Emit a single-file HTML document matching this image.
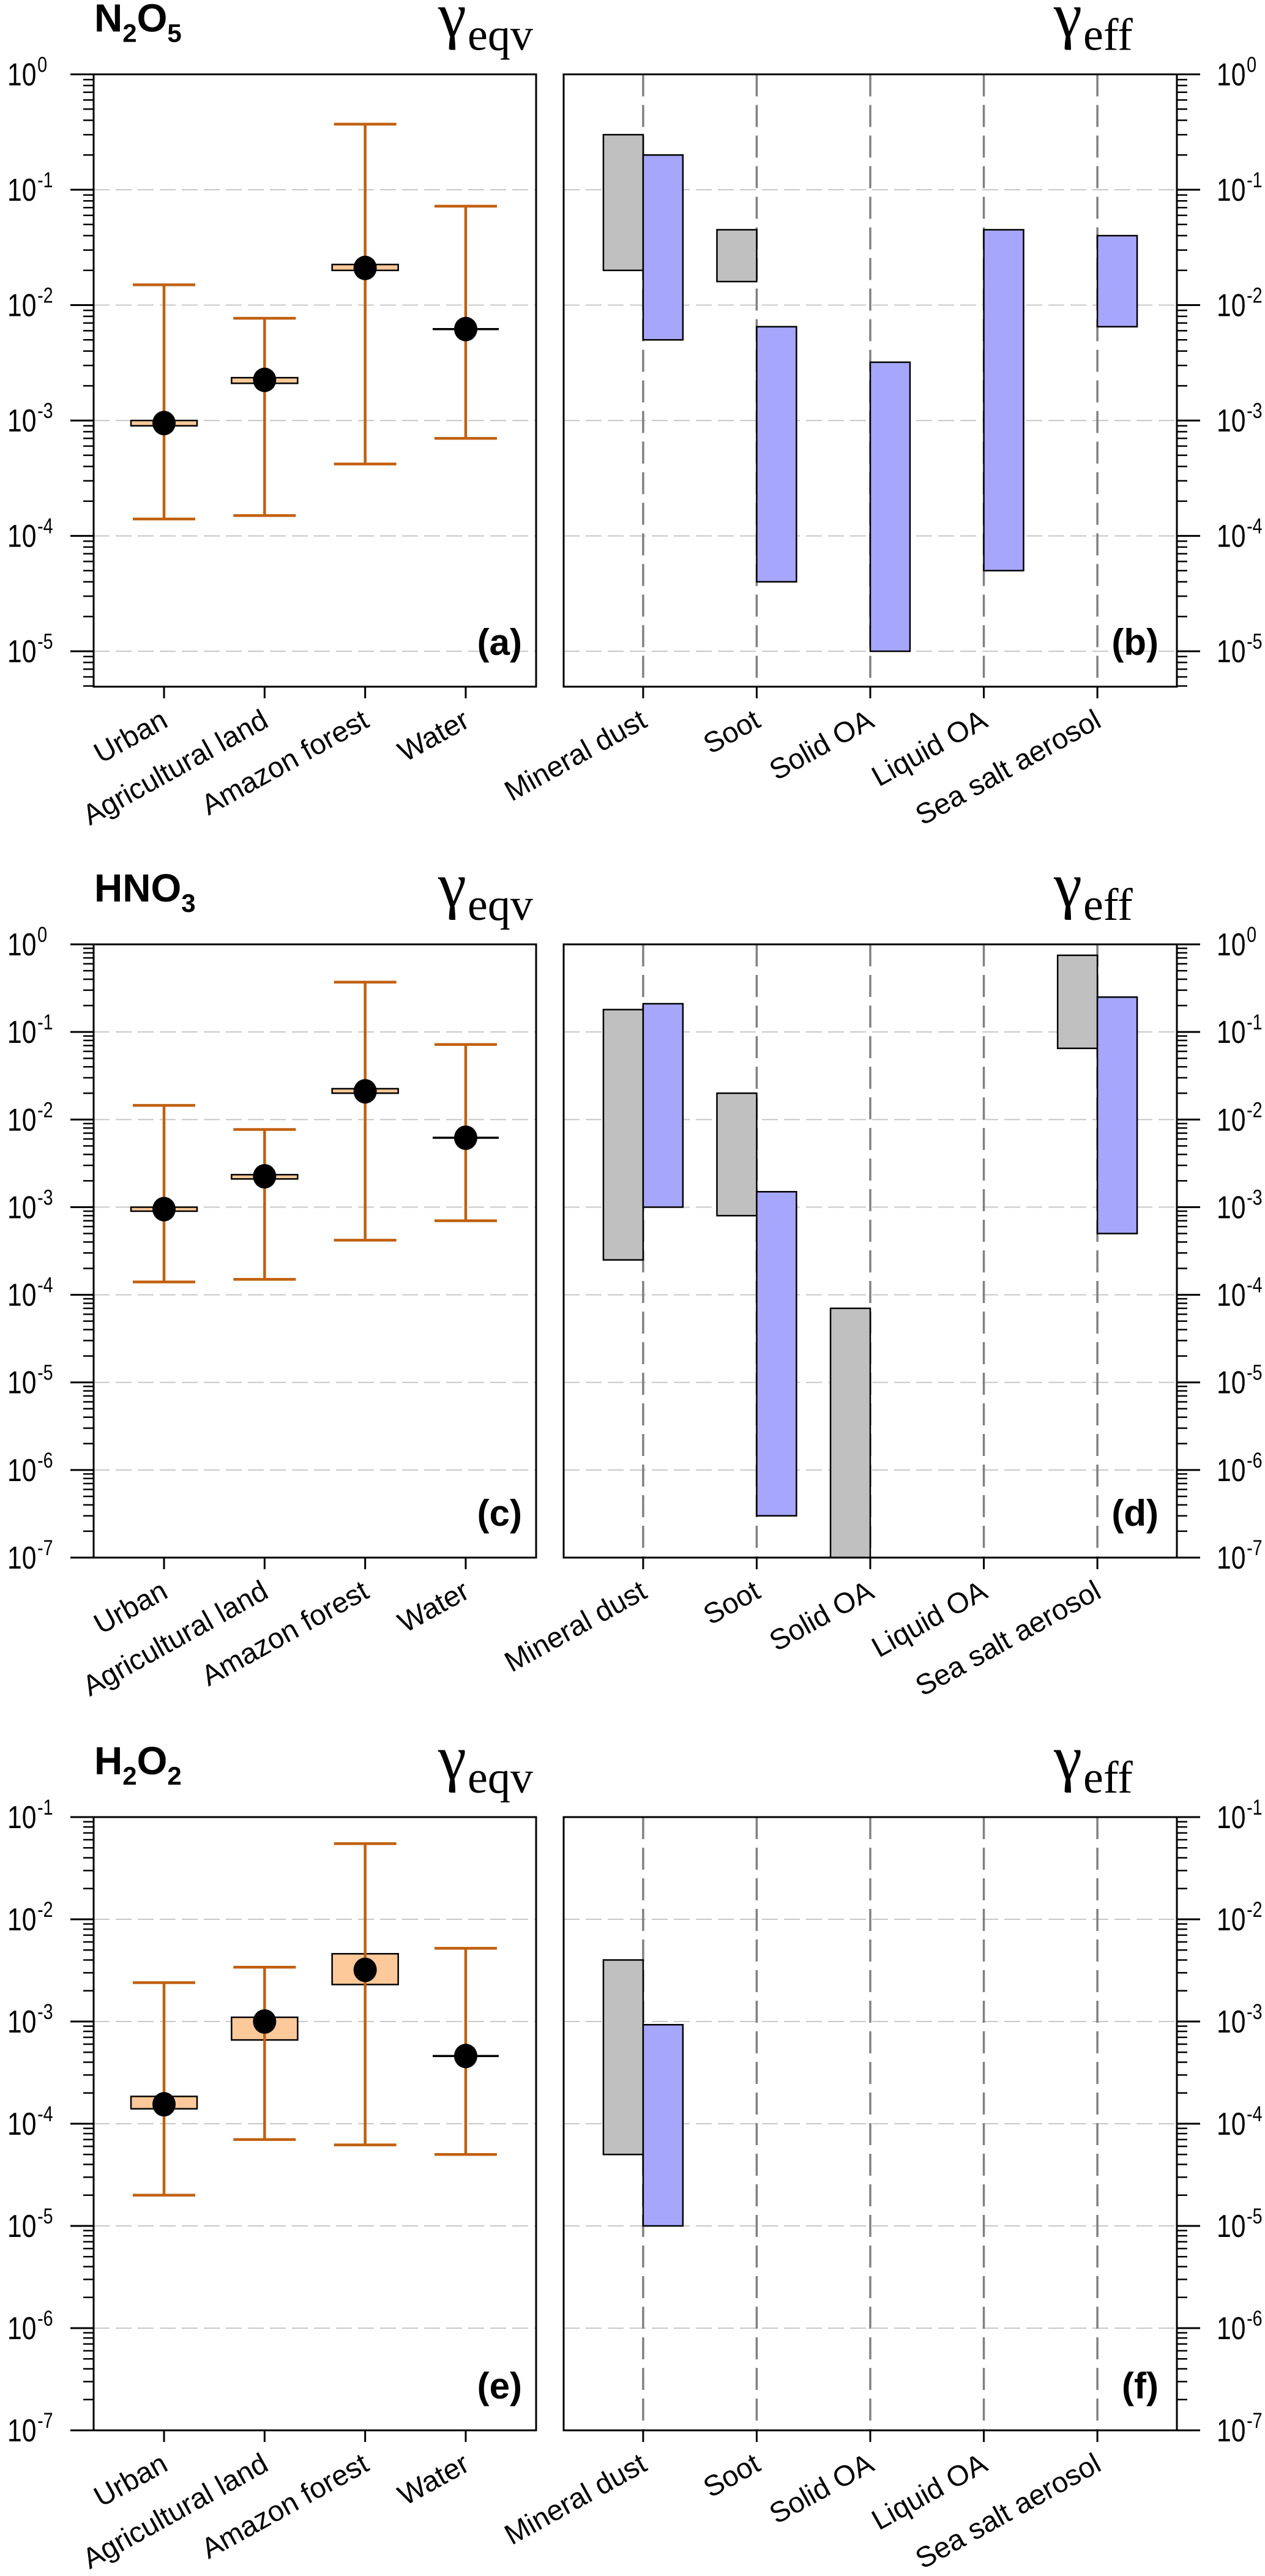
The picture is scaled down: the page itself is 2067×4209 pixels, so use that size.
<!DOCTYPE html>
<html><head><meta charset="utf-8"><title>Uptake coefficients</title>
<style>html,body{margin:0;padding:0;background:#fff}svg{display:block}</style></head>
<body>
<svg id="chart" xmlns="http://www.w3.org/2000/svg" width="2067" height="4209" viewBox="0 0 2067 4209"></svg>
<script>
const eqvCategories = ["Urban","Agricultural land","Amazon forest","Water"];
const effCategories = ["Mineral dust","Soot","Solid OA","Liquid OA","Sea salt aerosol"];

const n2o5EqvUpper = [0.015, 0.0077, 0.37, 0.072];
const n2o5EqvLower = [1.4e-4, 1.5e-4, 4.2e-4, 7e-4];
const n2o5EqvBoxHi = [1.0e-3, 2.35e-3, 0.0225, 0.0062];
const n2o5EqvBoxLo = [9.0e-4, 2.1e-3, 0.020, 0.0062];
const n2o5EqvMid   = [9.5e-4, 2.25e-3, 0.021, 0.0062];

const hno3EqvUpper = [0.0145, 0.0077, 0.37, 0.072];
const hno3EqvLower = [1.4e-4, 1.5e-4, 4.2e-4, 7e-4];
const hno3EqvBoxHi = [1.0e-3, 2.35e-3, 0.0225, 0.0062];
const hno3EqvBoxLo = [9.0e-4, 2.1e-3, 0.020, 0.0062];
const hno3EqvMid   = [9.5e-4, 2.25e-3, 0.021, 0.0062];

const h2o2EqvUpper = [2.4e-3, 3.4e-3, 0.055, 5.2e-3];
const h2o2EqvLower = [2e-5, 7e-5, 6.2e-5, 5e-5];
const h2o2EqvBoxHi = [1.85e-4, 1.1e-3, 4.6e-3, 4.6e-4];
const h2o2EqvBoxLo = [1.4e-4, 6.6e-4, 2.3e-3, 4.6e-4];
const h2o2EqvMid   = [1.55e-4, 1.0e-3, 3.2e-3, 4.6e-4];

const n2o5GrayHi = [0.3, 0.045, null, null, null];
const n2o5GrayLo = [0.02, 0.016, null, null, null];
const n2o5BlueHi = [0.2, 0.0065, 0.0032, 0.045, 0.04];
const n2o5BlueLo = [0.005, 4e-5, 1e-5, 5e-5, 0.0065];

const hno3GrayHi = [0.18, 0.02, 7e-5, null, 0.75];
const hno3GrayLo = [2.5e-4, 8e-4, 1e-7, null, 0.065];
const hno3BlueHi = [0.21, 1.5e-3, null, null, 0.25];
const hno3BlueLo = [1e-3, 3e-7, null, null, 5e-4];

const h2o2GrayHi = [4e-3, null, null, null, null];
const h2o2GrayLo = [5e-5, null, null, null, null];
const h2o2BlueHi = [9.3e-4, null, null, null, null];
const h2o2BlueLo = [1e-5, null, null, null, null];

const rowSpecies = ["N2O5","HNO3","H2O2"];
const rowPanelLetters = [["(a)","(b)"],["(c)","(d)"],["(e)","(f)"]];
const rowDecadeMax = [0, 0, -1];
const rowDecadeMin = [-5.307, -7, -7];

const NS = "http://www.w3.org/2000/svg";
const svg = document.getElementById("chart");
function mk(tag, attrs, parent){
  const e = document.createElementNS(NS, tag);
  for (const k in attrs) e.setAttribute(k, attrs[k]);
  (parent || svg).appendChild(e);
  return e;
}
const LX0 = 153, LX1 = 876, RX0 = 921, RX1 = 1923;
const rowTop = [121.5, 1543, 2969], rowBot = [1122, 2545, 3971];
function xL(i){ return LX0 + (i + 0.7) * (LX1 - LX0) / 4.4; }
function xR(i){ return RX0 + (i + 0.7) * (RX1 - RX0) / 5.4; }
function yScale(r){
  const t = rowTop[r], b = rowBot[r], mx = rowDecadeMax[r], mn = rowDecadeMin[r];
  return v => t + (mx - Math.log10(v)) * (b - t) / (mx - mn);
}
const orange = "#c0600f";

function drawTitle(r, g){
  const t = rowTop[r];
  const sp = rowSpecies[r];
  const tx = mk("text", {x:154, y:t-70, "font-family":"Liberation Sans, sans-serif", "font-weight":"bold", "font-size":"64", fill:"#000"}, g);
  
  
  const s = sp.replace(/(\d)/g, "|$1|").split("|").filter(x=>x);
  let prevSub = false;
  s.forEach(p=>{
    const ts = mk("tspan", {}, tx);
    if (/^\d$/.test(p)) { ts.setAttribute("font-size","42"); ts.setAttribute("dy","17"); prevSub = true; }
    else { ts.setAttribute("dy", prevSub ? "-17" : "0"); prevSub = false; }
    ts.textContent = p;
  });
  [["eqv",716],["eff",1722]].forEach(([sub,x])=>{
    const gt = mk("text", {x:x, y:t-62, "font-family":"Liberation Serif, DejaVu Serif, serif", "font-size":"104", fill:"#000"}, g);
    
    
    const a = mk("tspan", {}, gt); a.textContent = "γ";
    const b = mk("tspan", {"font-size":"74", dy:"22", dx:"2"}, gt); b.textContent = sub;
  });
}

function drawAxisTicks(r, g, side){
  const y = yScale(r), t = rowTop[r], b = rowBot[r];
  const ax = side === "left" ? LX0 : RX1;
  const dir = side === "left" ? -1 : 1;
  for (let d = Math.ceil(rowDecadeMin[r]) ; d <= rowDecadeMax[r]; d++){
    const yy = y(Math.pow(10,d));
    const tk = mk("line", {x1:ax, x2:ax + dir*38, y1:yy, y2:yy, stroke:"#000", "stroke-width":"3"}, g);
    
    
    const lx = side === "left" ? 12 : 1988;
    const lab = mk("text", {transform:`translate(${lx},${yy+18}) scale(0.82,1)`, "font-family":"Liberation Sans, sans-serif", "font-size":"52", fill:"#000"}, g);
    
    
    const m = mk("tspan", {}, lab); m.textContent = "10";
    const e = mk("tspan", {"font-size":"35", dy:"-22", dx:"2"}, lab); e.textContent = d === 0 ? "0" : String(d);
    if (d > rowDecadeMin[r] && d < rowDecadeMax[r]) {
      const gl = mk("line", {x1: side==="left"?LX0:RX0, x2: side==="left"?LX1:RX1, y1:yy, y2:yy, stroke:"#c8c8c8", "stroke-width":"2", "stroke-dasharray":"26 10"}, g);
      
      
    }
  }
  for (let d = Math.floor(rowDecadeMin[r]); d < rowDecadeMax[r]; d++){
    for (let k = 2; k <= 9; k++){
      const v = k * Math.pow(10,d);
      const lv = Math.log10(v);
      if (lv < rowDecadeMin[r] - 1e-6 || lv > rowDecadeMax[r]) continue;
      const yy = y(v);
      const mt = mk("line", {x1:ax, x2:ax + dir*17, y1:yy, y2:yy, stroke:"#000", "stroke-width":"2.5"}, g);
      
      
    }
  }
}

function catLabel(g, x, b, txt){
  const tl = mk("text", {transform:`translate(${x+9},${b+64}) rotate(-29)`, "text-anchor":"end", "font-family":"Liberation Sans, sans-serif", "font-size":"47", fill:"#000"}, g);
  
  
  tl.textContent = txt;
}

function drawEqv(r, upper, lower, boxHi, boxLo, mid){
  const g = mk("g", {});
  
  
  const y = yScale(r), t = rowTop[r], b = rowBot[r];
  drawAxisTicks(r, g, "left");
  eqvCategories.forEach((c,i)=>{
    const x = xL(i);
    const tk = mk("line", {x1:x, x2:x, y1:b, y2:b+19, stroke:"#000", "stroke-width":"3"}, g);
    
    
    catLabel(g, x, b, c);
    const hi = y(boxHi[i]), lo = y(boxLo[i]);
    if (Math.abs(lo - hi) < 1) {
      const ln = mk("line", {x1:x-54, x2:x+54, y1:hi, y2:hi, stroke:"#000", "stroke-width":"3.5"}, g);
      
      
    } else {
      const bx = mk("rect", {x:x-54, y:hi, width:108, height:Math.max(lo-hi,4), fill:"#fdc99a", stroke:"#000", "stroke-width":"2.5"}, g);
      
      
    }
    const yu = y(upper[i]), yl = y(lower[i]);
    const eb = mk("path", {d:`M${x},${yu}V${yl}M${x-51},${yu}H${x+51}M${x-51},${yl}H${x+51}`, stroke:orange, "stroke-width":"4.5", fill:"none"}, g);
    
    
    const dot = mk("ellipse", {cx:x, cy:y(mid[i]), rx:19, ry:20, fill:"#000"}, g);
    
    
  });
  const fr = mk("rect", {x:LX0, y:t, width:LX1-LX0, height:b-t, fill:"none", stroke:"#000", "stroke-width":"3"}, g);
  
  
  const pl = mk("text", {x:853, y:b-52, "text-anchor":"end", "font-family":"Liberation Sans, sans-serif", "font-weight":"bold", "font-size":"60", fill:"#000"}, g);
  
  
  pl.textContent = rowPanelLetters[r][0];
}

function drawEff(r, grayHi, grayLo, blueHi, blueLo){
  const g = mk("g", {});
  
  
  const y = yScale(r), t = rowTop[r], b = rowBot[r];
  drawAxisTicks(r, g, "right");
  const bw = 0.35 * (RX1 - RX0) / 5.4;
  effCategories.forEach((c,i)=>{
    const x = xR(i);
    const vg = mk("line", {x1:x, x2:x, y1:t, y2:b, stroke:"#808080", "stroke-width":"3.5", "stroke-dasharray":"36 14"}, g);
    
    
  });
  effCategories.forEach((c,i)=>{
    const x = xR(i);
    if (grayHi[i] != null) {
      const gb = mk("rect", {x:x-bw, y:y(grayHi[i]), width:bw, height:y(grayLo[i])-y(grayHi[i]), fill:"#c0c0c0", stroke:"#000", "stroke-width":"2.5"}, g);
      
      
    }
    if (blueHi[i] != null) {
      const bb = mk("rect", {x:x, y:y(blueHi[i]), width:bw, height:y(blueLo[i])-y(blueHi[i]), fill:"#a6a6fc", stroke:"#000", "stroke-width":"2.5"}, g);
      
      
    }
    const tk = mk("line", {x1:x, x2:x, y1:b, y2:b+19, stroke:"#000", "stroke-width":"3"}, g);
    
    
    catLabel(g, x, b, c);
  });
  const fr = mk("rect", {x:RX0, y:t, width:RX1-RX0, height:b-t, fill:"none", stroke:"#000", "stroke-width":"3"}, g);
  
  
  const pl = mk("text", {x:1893, y:b-52, "text-anchor":"end", "font-family":"Liberation Sans, sans-serif", "font-weight":"bold", "font-size":"60", fill:"#000"}, g);
  
  
  pl.textContent = rowPanelLetters[r][1];
}

[0,1,2].forEach(r=>{
  const g = mk("g", {});
  
  
  drawTitle(r, g);
});
drawEqv(0, n2o5EqvUpper, n2o5EqvLower, n2o5EqvBoxHi, n2o5EqvBoxLo, n2o5EqvMid);
drawEff(0, n2o5GrayHi, n2o5GrayLo, n2o5BlueHi, n2o5BlueLo);
drawEqv(1, hno3EqvUpper, hno3EqvLower, hno3EqvBoxHi, hno3EqvBoxLo, hno3EqvMid);
drawEff(1, hno3GrayHi, hno3GrayLo, hno3BlueHi, hno3BlueLo);
drawEqv(2, h2o2EqvUpper, h2o2EqvLower, h2o2EqvBoxHi, h2o2EqvBoxLo, h2o2EqvMid);
drawEff(2, h2o2GrayHi, h2o2GrayLo, h2o2BlueHi, h2o2BlueLo);
</script>
</body></html>
